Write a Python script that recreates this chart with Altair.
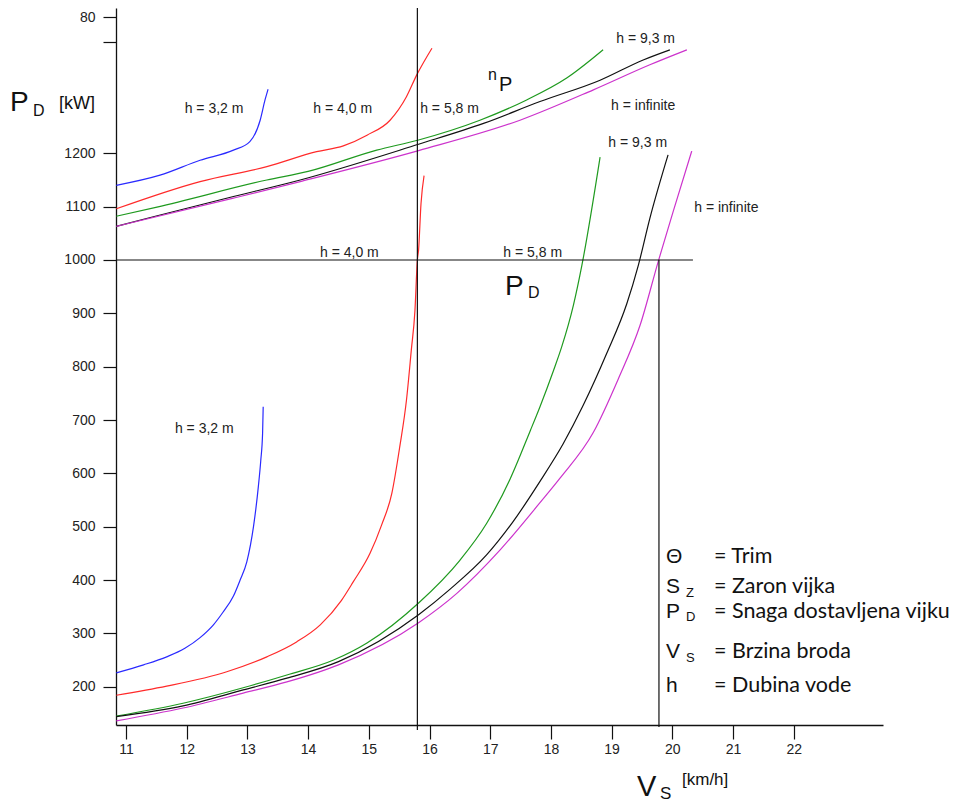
import altair as alt
import pandas as pd

# ---------------- data ----------------
# P_D curves (lower family), V_S in km/h, P_D in kW
blue_lo_x = [10.84, 11.29, 11.67, 11.97, 12.22, 12.44, 12.60, 12.77, 12.88, 12.99, 13.10, 13.18, 13.22, 13.25, 13.26]
blue_lo_y = [226, 241, 256, 272, 292, 316, 340, 370, 400, 434, 500, 575, 624, 675, 725]

red_lo_x = [10.84, 11.67, 12.66, 13.32, 13.81, 14.20, 14.55, 14.74, 15.02, 15.21, 15.38, 15.51, 15.62, 15.70, 15.76, 15.80, 15.82, 15.86, 15.91]
red_lo_y = [184, 201, 228, 256, 284, 316, 362, 396, 450, 503, 563, 650, 737, 831, 905, 1000, 1019, 1106, 1158]

green_lo_x = [10.84, 11.94, 12.93, 13.65, 14.42, 14.97, 15.82, 16.50, 16.94, 17.33, 17.66, 17.82, 18.04, 18.18, 18.37, 18.51, 18.81]
green_lo_y = [145, 169, 198, 222, 250, 282, 357, 437, 506, 590, 680, 725, 792, 838, 915, 990, 1193]

black_lo_x = [10.84, 11.94, 12.93, 13.65, 14.50, 15.82, 16.34, 16.94, 17.38, 17.82, 18.20, 18.53, 18.92, 19.25, 19.44, 19.63, 19.93]
black_lo_y = [144, 164, 194, 216, 247, 335, 383, 447, 510, 585, 655, 727, 825, 918, 990, 1078, 1197]

magenta_lo_x = [10.84, 11.94, 12.93, 13.65, 14.50, 15.82, 16.45, 17.16, 17.82, 18.15, 18.70, 19.11, 19.47, 19.77, 20.02, 20.32]
magenta_lo_y = [136, 160, 188, 209, 241, 320, 375, 456, 545, 591, 677, 777, 878, 998, 1093, 1204]

# n_P curves (upper family), drawn on the same vertical scale
blue_up_x = [10.84, 11.56, 12.22, 12.77, 13.04, 13.21, 13.29, 13.34]
blue_up_y = [1140, 1159, 1187, 1206, 1222, 1262, 1300, 1320]

red_up_x = [10.84, 12.22, 13.32, 14.14, 14.58, 14.97, 15.35, 15.62, 15.79, 16.04]
red_up_y = [1096, 1147, 1175, 1203, 1214, 1234, 1262, 1306, 1347, 1397]

green_up_x = [10.84, 11.51, 13.32, 14.00, 15.13, 15.82, 16.83, 17.60, 18.26, 18.86]
green_up_y = [1082, 1099, 1150, 1166, 1206, 1225, 1262, 1300, 1341, 1394]

black_up_x = [10.84, 11.45, 12.77, 13.87, 15.82, 16.89, 17.82, 18.81, 19.52, 19.96]
black_up_y = [1063, 1081, 1119, 1150, 1217, 1256, 1297, 1337, 1375, 1394]

magenta_up_x = [10.84, 12.77, 13.87, 15.82, 17.49, 18.70, 19.63, 20.24]
magenta_up_y = [1063, 1116, 1147, 1205, 1262, 1319, 1366, 1394]

x_ticks = [11, 12, 13, 14, 15, 16, 17, 18, 19, 20, 21, 22]
y_ticks = [200, 300, 400, 500, 600, 700, 800, 900, 1000, 1100, 1200, 1409, 1455]

# curve annotations (text, V_S, value)
curve_labels = ["h = 3,2 m", "h = 4,0 m", "h = 5,8 m", "h = 9,3 m", "h = infinite",
                "h = 9,3 m", "h = infinite", "h = 4,0 m", "h = 5,8 m", "h = 3,2 m"]
curve_label_x = [12.45, 14.57, 16.33, 19.56, 19.52, 19.43, 20.89, 14.68, 17.70, 12.29]
curve_label_y = [1276, 1276, 1276, 1406, 1281, 1212, 1090, 1006, 1006, 675]

legend_symbols = ["\u0398", "S", "P", "V", "h"]
legend_subs = ["", "Z", "D", "S", ""]
legend_texts = ["= Trim", "= Zaron vijka", "= Snaga dostavljena vijku", "= Brzina broda", "= Dubina vode"]

# ---------------- build ----------------
BLUE, RED, GREEN, BLACK, MAG = "#2a2aff", "#ff2a2a", "#1f9a1f", "#111111", "#cc33cc"
curves = [
    ("blue_lo", blue_lo_x, blue_lo_y, BLUE), ("red_lo", red_lo_x, red_lo_y, RED),
    ("green_lo", green_lo_x, green_lo_y, GREEN), ("black_lo", black_lo_x, black_lo_y, BLACK),
    ("mag_lo", magenta_lo_x, magenta_lo_y, MAG),
    ("blue_up", blue_up_x, blue_up_y, BLUE), ("red_up", red_up_x, red_up_y, RED),
    ("green_up", green_up_x, green_up_y, GREEN), ("black_up", black_up_x, black_up_y, BLACK),
    ("mag_up", magenta_up_x, magenta_up_y, MAG),
]
rows = []
for name, xs_, ys_, _c in curves:
    for a, b in zip(xs_, ys_):
        rows.append({"curve": name, "vs": a, "val": b})
df = pd.DataFrame(rows)

W, H = 767, 717
xscale = alt.Scale(domain=[10.835, 23.471], nice=False, zero=False)
yscale = alt.Scale(domain=[128.2, 1472.4], nice=False, zero=False)
FONT = "Liberation Sans"

x_axis = alt.Axis(values=x_ticks, format="d", tickSize=14, labelPadding=3, grid=False,
                  domainColor="#111", tickColor="#111", domainWidth=1.3, tickWidth=1.2,
                  labelFont=FONT, labelFontSize=14, labelColor="#222", title=None)
y_axis = alt.Axis(values=y_ticks, tickSize=13, labelPadding=8, grid=False,
                  labelExpr="datum.value == 1455 ? '80' : (datum.value == 1409 ? '' : datum.value)",
                  domainColor="#111", tickColor="#111", domainWidth=1.3, tickWidth=1.2,
                  labelFont=FONT, labelFontSize=14, labelColor="#222", title=None)


def X(field="vs"):
    return alt.X(f"{field}:Q", scale=xscale, axis=x_axis, title=None)


def Y(field="val"):
    return alt.Y(f"{field}:Q", scale=yscale, axis=y_axis, title=None)


lines = alt.Chart(df).mark_line(strokeWidth=1.2, interpolate="monotone").encode(
    x=X(), y=Y(),
    color=alt.Color("curve:N", scale=alt.Scale(domain=[c[0] for c in curves], range=[c[3] for c in curves]), legend=None),
    detail="curve:N",
)

# reference lines
rules_df = pd.DataFrame({
    "vs": [15.8, 19.78, 10.835, 8.924],
    "vs2": [15.8, 19.78, 20.34, 24.69],
    "val": [1474.3, 1000, 1000, 1474.3],
    "val2": [118.8, 124.4, 1000, 1474.3],
})
rules = alt.Chart(rules_df).mark_rule(color="#111", strokeWidth=1.2).encode(
    x=X(), x2="vs2:Q", y=Y(), y2="val2:Q")

lab_df = pd.DataFrame({"t": curve_labels, "vs": curve_label_x, "val": curve_label_y})
labels = alt.Chart(lab_df).mark_text(font=FONT, fontSize=14, color="#222", align="center",
                                     baseline="alphabetic").encode(x=X(), y=Y(), text="t:N")


# pixel helper (plot-area coordinates; plot origin at page (116, 8))
def ptext(s, px, py, size, align="left", font=FONT, color="#111"):
    return alt.Chart(pd.DataFrame({"t": [s]})).mark_text(
        font=font, fontSize=size, align=align, baseline="alphabetic", color=color
    ).encode(x=alt.value(px - 116), y=alt.value(py - 8), text="t:N")


texts = [
    # y axis title  P_D [kW]
    ptext("P", 10, 111, 28), ptext("D", 33, 116, 16), ptext("[kW]", 59, 109, 18),
    # x axis title  V_S [km/h]
    ptext("V", 637, 796, 29), ptext("S", 660, 799, 17), ptext("[km/h]", 682, 785, 17),
    # n_P
    ptext("n", 488, 80, 16), ptext("P", 499, 91, 20),
    # P_D
    ptext("P", 505, 295, 28), ptext("D", 528, 298, 16),
]
sym_base = [563, 593, 618, 658, 692]
sub_base = [0, 597, 621, 662, 0]
for i in range(5):
    texts.append(ptext(legend_symbols[i], 666, sym_base[i], 21))
    if legend_subs[i]:
        texts.append(ptext(legend_subs[i], 686, sub_base[i], 13))
    texts.append(ptext(legend_texts[i], 714, sym_base[i], 21.5, font="Lato"))

chart = alt.layer(lines, rules, labels, *texts).properties(
    width=W, height=H,
    autosize=alt.AutoSizeParams(type="none"),
    padding={"left": 108, "top": 0, "right": 66, "bottom": 78},
).configure(background="white").configure_view(stroke=None)

chart.save("out.html", embed_options={"renderer": "svg", "actions": False})
